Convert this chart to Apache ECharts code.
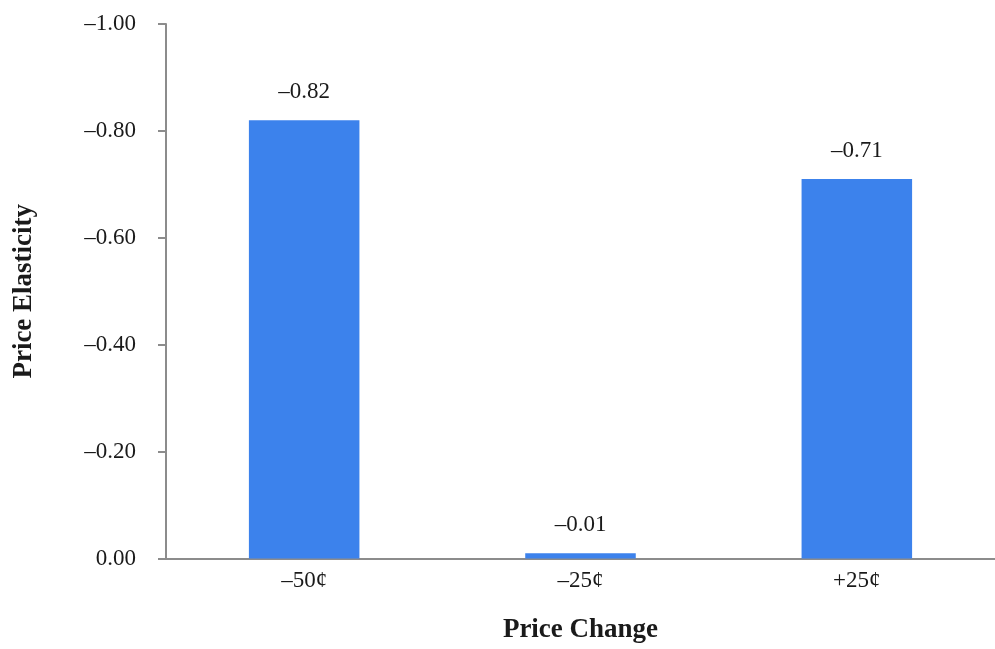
<!DOCTYPE html>
<html>
<head>
<meta charset="utf-8">
<script src="https://cdn.jsdelivr.net/npm/echarts@6/dist/echarts.min.js"></script>
<style>
  html, body { margin: 0; padding: 0; background: #ffffff; }
  #chart { width: 995px; height: 649px; }
</style>
</head>
<body>
<div id="chart"></div>
<script>
// Price elasticity by size of price change
const categories = ['–50¢', '–25¢', '+25¢'];
const elasticity = [-0.82, -0.01, -0.71];
const yTicks = { min: -1, max: 0, step: 0.2 };

const serif = '"Liberation Serif", "DejaVu Serif", serif';
const textColor = '#1a1a1a';
const axisColor = '#8c8c8c';
const barColor = '#3c82ec';

function fmt(v) {
  if (Math.abs(v) < 1e-9) return '0.00';
  return (v < 0 ? '–' : '+') + Math.abs(v).toFixed(2);
}

const chart = echarts.init(document.getElementById('chart'), null, { renderer: 'canvas' });
chart.setOption({
  backgroundColor: '#ffffff',
  animation: false,
  grid: { left: 166, top: 24, bottom: 88, width: 837, containLabel: false },
  xAxis: {
    type: 'category',
    data: categories,
    name: 'Price Change',
    nameLocation: 'middle',
    nameGap: 72,
    nameTextStyle: { fontFamily: serif, fontWeight: 'bold', fontSize: 27, color: textColor, verticalAlign: 'middle' },
    axisLine: { show: true, lineStyle: { color: axisColor, width: 2 } },
    axisTick: { show: false },
    axisLabel: { fontFamily: serif, fontSize: 23, color: textColor, margin: 11 },
    splitLine: { show: false }
  },
  yAxis: {
    type: 'value',
    inverse: true,
    min: yTicks.min,
    max: yTicks.max,
    interval: yTicks.step,
    name: 'Price Elasticity',
    nameLocation: 'middle',
    nameRotate: 90,
    nameGap: 142,
    nameTextStyle: { fontFamily: serif, fontWeight: 'bold', fontSize: 27, color: textColor, verticalAlign: 'middle' },
    axisLine: { show: true, lineStyle: { color: axisColor, width: 2 } },
    axisTick: { show: true, length: 8, lineStyle: { color: axisColor, width: 2 } },
    axisLabel: { fontFamily: serif, fontSize: 23, color: textColor, margin: 30, formatter: fmt },
    splitLine: { show: false }
  },
  series: [{
    type: 'bar',
    data: elasticity,
    barWidth: '40%',
    itemStyle: { color: barColor },
    label: {
      show: true,
      position: 'top',
      distance: 17,
      fontFamily: serif,
      fontSize: 23,
      color: textColor,
      formatter: p => fmt(p.value)
    }
  }]
});
</script>
</body>
</html>
